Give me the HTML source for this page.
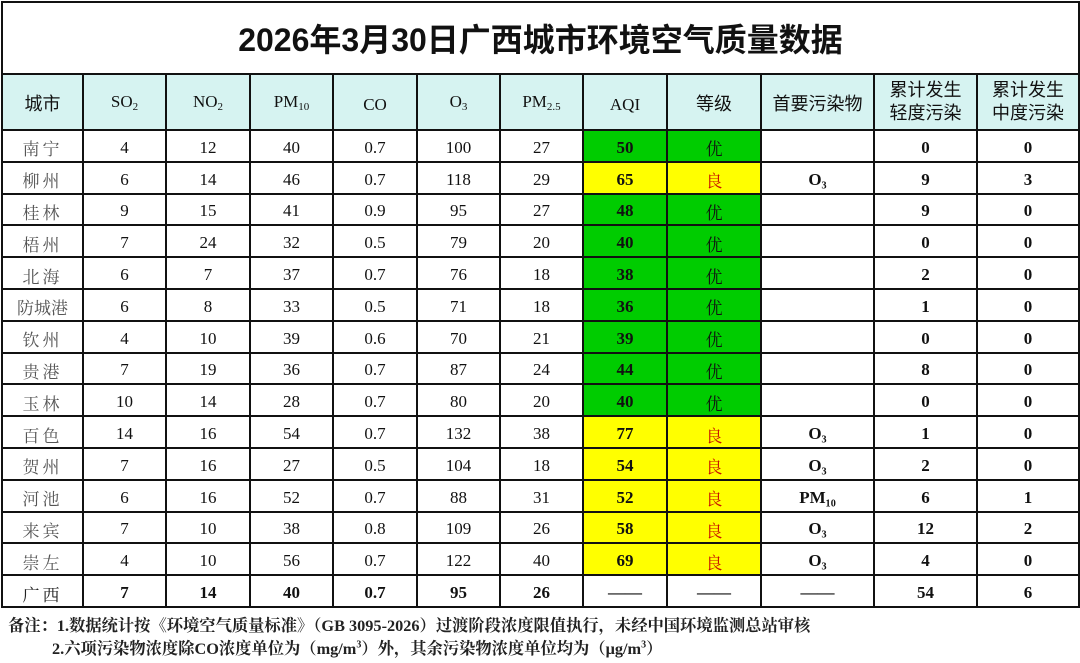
<!DOCTYPE html>
<html><head><meta charset="utf-8"><style>
body{margin:0;background:#fff;width:1080px;height:663px;overflow:hidden;font-family:"Liberation Serif","Noto Serif CJK SC",serif;}
table{position:absolute;left:1px;top:1px;border-collapse:collapse;table-layout:fixed;}
td{border:2px solid #111;text-align:center;padding:4px 0 0 0;font-size:17px;color:#111;height:25.8px;}
.t td{height:70px;padding:0;font-family:"Liberation Sans","Noto Sans CJK SC",sans-serif;font-weight:bold;font-size:32px;}
.h td{background:#d6f3f1;height:50px;padding:4px 0 0 0;font-size:17px;line-height:23px;}
.h .c{font-family:"Liberation Sans","Noto Sans CJK SC",sans-serif;font-size:18px;}
.h .c2{padding-top:0;height:54px;}
sub{font-size:11px;vertical-align:-3px;}
.n{font-family:"Liberation Serif","Noto Serif CJK SC",serif;color:#555;letter-spacing:3px;}
.g{background:#00cc00;font-weight:bold;}
.y{background:#ffff00;font-weight:bold;}
.gy{background:#00cc00;}
.yy{background:#ffff00;color:#c81000;}
.b{font-weight:bold;}
.tot td{font-weight:bold;}
.note{position:absolute;left:8px;font-size:16.3px;font-weight:bold;color:#222;font-family:"Liberation Serif","Noto Serif CJK SC",serif;white-space:nowrap;}
</style></head><body>
<table>
<colgroup><col style="width:81px"><col style="width:83px"><col style="width:84px"><col style="width:83px"><col style="width:84px"><col style="width:83px"><col style="width:83px"><col style="width:84px"><col style="width:94px"><col style="width:113px"><col style="width:103px"><col style="width:102px"></colgroup>
<tr class="t"><td colspan="12">2026年3月30日广西城市环境空气质量数据</td></tr>
<tr class="h"><td class="c">城市</td><td>SO<sub>2</sub></td><td>NO<sub>2</sub></td><td>PM<sub>10</sub></td><td>CO</td><td>O<sub>3</sub></td><td>PM<sub>2.5</sub></td><td>AQI</td><td class="c">等级</td><td class="c">首要污染物</td><td class="c c2">累计发生<br>轻度污染</td><td class="c c2">累计发生<br>中度污染</td></tr>
<tr><td class="n">南宁</td><td>4</td><td>12</td><td>40</td><td>0.7</td><td>100</td><td>27</td><td class="g">50</td><td class="gy">优</td><td></td><td class="b">0</td><td class="b">0</td></tr>
<tr><td class="n">柳州</td><td>6</td><td>14</td><td>46</td><td>0.7</td><td>118</td><td>29</td><td class="y">65</td><td class="yy">良</td><td class="b">O₃</td><td class="b">9</td><td class="b">3</td></tr>
<tr><td class="n">桂林</td><td>9</td><td>15</td><td>41</td><td>0.9</td><td>95</td><td>27</td><td class="g">48</td><td class="gy">优</td><td></td><td class="b">9</td><td class="b">0</td></tr>
<tr><td class="n">梧州</td><td>7</td><td>24</td><td>32</td><td>0.5</td><td>79</td><td>20</td><td class="g">40</td><td class="gy">优</td><td></td><td class="b">0</td><td class="b">0</td></tr>
<tr><td class="n">北海</td><td>6</td><td>7</td><td>37</td><td>0.7</td><td>76</td><td>18</td><td class="g">38</td><td class="gy">优</td><td></td><td class="b">2</td><td class="b">0</td></tr>
<tr><td class="n" style="letter-spacing:0">防城港</td><td>6</td><td>8</td><td>33</td><td>0.5</td><td>71</td><td>18</td><td class="g">36</td><td class="gy">优</td><td></td><td class="b">1</td><td class="b">0</td></tr>
<tr><td class="n">钦州</td><td>4</td><td>10</td><td>39</td><td>0.6</td><td>70</td><td>21</td><td class="g">39</td><td class="gy">优</td><td></td><td class="b">0</td><td class="b">0</td></tr>
<tr><td class="n">贵港</td><td>7</td><td>19</td><td>36</td><td>0.7</td><td>87</td><td>24</td><td class="g">44</td><td class="gy">优</td><td></td><td class="b">8</td><td class="b">0</td></tr>
<tr><td class="n">玉林</td><td>10</td><td>14</td><td>28</td><td>0.7</td><td>80</td><td>20</td><td class="g">40</td><td class="gy">优</td><td></td><td class="b">0</td><td class="b">0</td></tr>
<tr><td class="n">百色</td><td>14</td><td>16</td><td>54</td><td>0.7</td><td>132</td><td>38</td><td class="y">77</td><td class="yy">良</td><td class="b">O₃</td><td class="b">1</td><td class="b">0</td></tr>
<tr><td class="n">贺州</td><td>7</td><td>16</td><td>27</td><td>0.5</td><td>104</td><td>18</td><td class="y">54</td><td class="yy">良</td><td class="b">O₃</td><td class="b">2</td><td class="b">0</td></tr>
<tr><td class="n">河池</td><td>6</td><td>16</td><td>52</td><td>0.7</td><td>88</td><td>31</td><td class="y">52</td><td class="yy">良</td><td class="b">PM₁₀</td><td class="b">6</td><td class="b">1</td></tr>
<tr><td class="n">来宾</td><td>7</td><td>10</td><td>38</td><td>0.8</td><td>109</td><td>26</td><td class="y">58</td><td class="yy">良</td><td class="b">O₃</td><td class="b">12</td><td class="b">2</td></tr>
<tr><td class="n">崇左</td><td>4</td><td>10</td><td>56</td><td>0.7</td><td>122</td><td>40</td><td class="y">69</td><td class="yy">良</td><td class="b">O₃</td><td class="b">4</td><td class="b">0</td></tr>
<tr class="tot"><td class="n" style="font-weight:normal;color:#222">广西</td><td>7</td><td>14</td><td>40</td><td>0.7</td><td>95</td><td>26</td><td>——</td><td>——</td><td>——</td><td>54</td><td>6</td></tr>
</table>
<div class="note" style="top:612px">备注：1.数据统计按《环境空气质量标准》（GB 3095-2026）过渡阶段浓度限值执行，未经中国环境监测总站审核</div>
<div class="note" style="top:635px;left:52px">2.六项污染物浓度除CO浓度单位为（mg/m<sup style="font-size:10px">3</sup>）外，其余污染物浓度单位均为（μg/m<sup style="font-size:10px">3</sup>）</div>
</body></html>
